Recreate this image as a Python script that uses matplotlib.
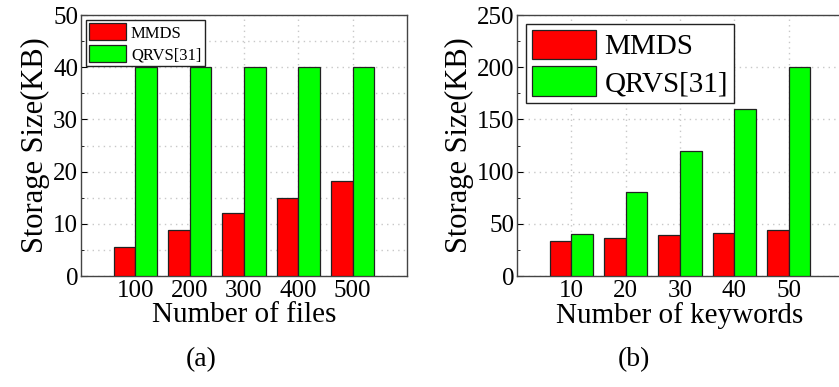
import numpy as np
import matplotlib
matplotlib.use("Agg")
import matplotlib.pyplot as plt
from matplotlib.ticker import MultipleLocator

# storage size comparison, two panels
files = ["100", "200", "300", "400", "500"]
mmds_files = [5.6, 8.8, 12.0, 15.0, 18.2]
qrvs_files = [40, 40, 40, 40, 40]

keywords = ["10", "20", "30", "40", "50"]
mmds_kw = [33.8, 36.4, 38.9, 41.5, 44.0]
qrvs_kw = [40, 80, 120, 160, 200]

plt.rcParams["font.family"] = ["Liberation Serif", "DejaVu Serif"]

RED = "#ff0000"
GREEN = "#00ff00"


# draws one panel
def panel(ax, labels, a, b, ymax, ystep, xlabel, leg_size, hlen, hh, minor_grid):
    x = np.arange(1, len(labels) + 1)
    w = 0.4
    ax.bar(x - w / 2, a, width=w, color=RED, edgecolor="#222222", linewidth=0.9,
           label="MMDS", zorder=3)
    ax.bar(x + w / 2, b, width=w, color=GREEN, edgecolor="#222222", linewidth=0.9,
           label="QRVS[31]", zorder=3)
    ax.set_xlim(0, len(labels) + 1)
    ax.set_ylim(0, ymax)
    ax.set_xticks(x)
    ax.set_xticklabels(labels)
    ax.yaxis.set_major_locator(MultipleLocator(ystep))
    ax.yaxis.set_minor_locator(MultipleLocator(ystep / 2))
    ax.tick_params(axis="y", which="both", direction="in", labelsize=18, pad=2)
    ax.tick_params(axis="y", which="major", length=4)
    ax.tick_params(axis="y", which="minor", length=2.5)
    ax.tick_params(axis="x", length=0, labelsize=18, pad=3)
    ax.grid(True, axis="x", color="#c8c8c8", linestyle=(0, (1, 3)), linewidth=1, zorder=0)
    ax.grid(True, axis="y", which="major", color="#c8c8c8", linestyle=(0, (1, 3)),
            linewidth=1, zorder=0)
    if minor_grid:
        ax.grid(True, axis="y", which="minor", color="#c8c8c8", linestyle=(0, (1, 3)),
                linewidth=1, zorder=0)
    ax.set_axisbelow(True)
    for s in ax.spines.values():
        s.set_color("#444444")
        s.set_linewidth(1.0)
    ax.set_ylabel("Storage Size(KB)", fontsize=22, labelpad=2)
    ax.set_xlabel(xlabel, fontsize=21, labelpad=0)
    leg = ax.legend(loc="upper left", fontsize=leg_size, fancybox=False, framealpha=1,
                    edgecolor="#222222", borderpad=0.2, handlelength=hlen, handleheight=hh,
                    handletextpad=0.3, labelspacing=0.2, borderaxespad=0.3)
    leg.get_frame().set_linewidth(1.0)


fig = plt.figure(figsize=(8.39, 3.87), dpi=100)
ax1 = fig.add_axes([0.0965, 0.2868, 0.3886, 0.6744])
ax2 = fig.add_axes([0.6162, 0.2868, 0.3886, 0.6744])

panel(ax1, files, mmds_files, qrvs_files, 50, 10, "Number of files", 12, 2.2, 1.2, True)
panel(ax2, keywords, mmds_kw, qrvs_kw, 250, 50, "Number of keywords", 21, 2.2, 1.2, False)

fig.text(0.2395, 0.07, "(a)", ha="center", va="center", fontsize=20)
fig.text(0.755, 0.07, "(b)", ha="center", va="center", fontsize=20)

fig.savefig("out.png", dpi=100)
